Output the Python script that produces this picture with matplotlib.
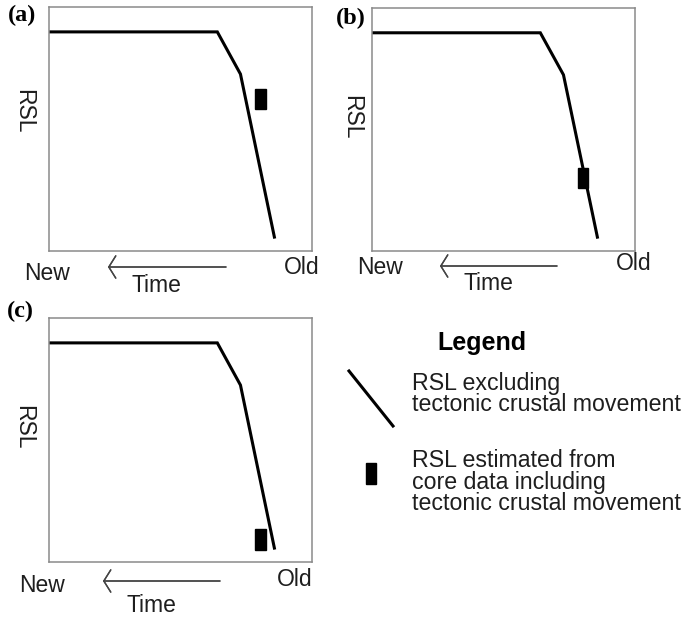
import matplotlib.pyplot as plt
from matplotlib.patches import Rectangle
from matplotlib.lines import Line2D

# RSL curve, same in every panel (x: 0 = new, 1 = old; y: relative sea level)
time_pts = [0.0, 0.640, 0.728, 0.857]
rsl_pts = [0.898, 0.898, 0.725, 0.057]

# core-data boxes per panel: (time left, time right, rsl bottom, rsl top)
panel_names = ['(a)', '(b)', '(c)']
core_boxes = [
    (0.783, 0.825, 0.582, 0.664),
    (0.783, 0.821, 0.259, 0.342),
    (0.783, 0.825, 0.049, 0.135),
]

W, H = 690, 617
TXT = '#1e1e1e'
BOX = '#8a8a8a'
plt.rcParams['font.family'] = ['Liberation Sans', 'DejaVu Sans']

fig = plt.figure(figsize=(6.9, 6.17), dpi=100)


def fx(x):
    return x / W


def fy(y):
    return 1 - y / H


# panel boxes in pixels: left, top, right, bottom
boxes_px = [(49, 7, 312, 251), (372, 8, 635, 251), (49, 318, 312, 562)]
# label positions (pixels): panel tag, RSL, New, Old, Time, arrow y, arrow x0, x1
labels_px = [
    ((22, 15), (24, 111), (47, 273), (302, 267), (156, 285), 267, 108, 226),
    ((351, 18), (352, 117), (380, 268), (634, 264), (488, 283), 266, 440, 557),
    ((20, 311), (24, 427), (42, 585), (295, 580), (151, 605), 581, 103, 220),
]

for i in range(3):
    l, t, r, b = boxes_px[i]
    ax = fig.add_axes([fx(l), fy(b), (r - l) / W, (b - t) / H])
    ax.plot(time_pts, rsl_pts, color='black', lw=2.2, solid_joinstyle='miter')
    x0, x1, y0, y1 = core_boxes[i]
    ax.add_patch(Rectangle((x0, y0), x1 - x0, y1 - y0, color='black'))
    ax.set_xlim(0, 1)
    ax.set_ylim(0, 1)
    ax.set_xticks([])
    ax.set_yticks([])
    for s in ax.spines.values():
        s.set_color(BOX)
        s.set_linewidth(1.1)

    tag, rsl, new, old, tm, ay, ax0, ax1 = labels_px[i]
    fig.text(fx(tag[0]), fy(tag[1]), panel_names[i], family='Liberation Serif',
             weight='bold', fontsize=17.5, ha='center', va='center', color='black')
    fig.text(fx(rsl[0]), fy(rsl[1]), 'RSL', rotation=-90, fontsize=16.5,
             ha='center', va='center', color=TXT)
    fig.text(fx(new[0]), fy(new[1]), 'New', fontsize=16.5, ha='center', va='center', color=TXT)
    fig.text(fx(old[0]), fy(old[1]), 'Old', fontsize=16.5, ha='center', va='center', color=TXT)
    fig.text(fx(tm[0]), fy(tm[1]), 'Time', fontsize=16.5, ha='center', va='center', color=TXT)
    fig.add_artist(plt.annotate('', xy=(fx(ax0), fy(ay)), xytext=(fx(ax1), fy(ay)),
                                xycoords='figure fraction', textcoords='figure fraction',
                                arrowprops=dict(arrowstyle='->,head_length=0.5,head_width=0.8',
                                                lw=1.0, color='#444444', mutation_scale=10,
                                                shrinkA=0, shrinkB=0)))

# legend
fig.text(fx(482), fy(343), 'Legend', weight='bold', fontsize=18, ha='center', va='center',
         color='black')
fig.add_artist(Line2D([fx(349), fx(393)], [fy(371), fy(426)], color='black', lw=2.2))
fig.text(fx(412), fy(394), 'RSL excluding\ntectonic crustal movement', fontsize=16.7,
         ha='left', va='center', linespacing=0.93, color=TXT)
fig.add_artist(Rectangle((fx(366), fy(484)), fx(10), (484 - 463) / H, color='black',
                         transform=fig.transFigure))
fig.text(fx(412), fy(482), 'RSL estimated from\ncore data including\ntectonic crustal movement',
         fontsize=16.7, ha='left', va='center', linespacing=0.93, color=TXT)

fig.savefig('out.png', dpi=100)
